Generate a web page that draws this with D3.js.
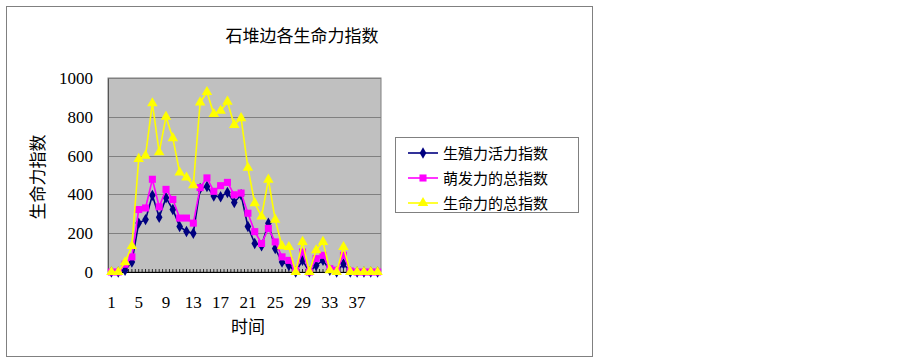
<!DOCTYPE html>
<html>
<head>
<meta charset="utf-8">
<script src="https://cdn.jsdelivr.net/npm/d3@7"></script>
<style>
  body { margin: 0; background: #fff; }
</style>
</head>
<body>
<div id="chart"></div>
<script>
// categories 1..40
const categories = d3.range(1, 41);
const tickLabels = [1, 5, 9, 13, 17, 21, 25, 29, 33, 37];
const yTicks = [0, 200, 400, 600, 800, 1000];

const seriesNames = ['生殖力活力指数', '萌发力的总指数', '生命力的总指数'];

const vitality = [0, 0, 9, 52, 252, 270, 395, 282, 383, 322, 235, 209, 200, 430, 441, 392, 388, 410, 358, 398,
  234, 147, 135, 251, 121, 52, 34, 0, 60, 0, 34, 60, 9, 0, 43, 0, 0, 0, 0, 0];
const germination = [0, 0, 40, 78, 322, 330, 478, 336, 426, 374, 278, 278, 252, 435, 485, 416, 445, 462, 398, 407,
  303, 208, 147, 225, 155, 78, 60, 9, 103, 0, 69, 86, 17, 9, 86, 5, 0, 0, 0, 0];
const life = [0, 0, 50, 134, 583, 600, 870, 617, 800, 690, 513, 487, 447, 874, 928, 814, 831, 878, 758, 793,
  537, 355, 286, 476, 270, 133, 129, 0, 155, 0, 112, 155, 9, 0, 129, 0, 0, 0, 0, 0];

const series = [
  { name: seriesNames[0], values: vitality, color: '#000080', marker: d3.symbolDiamond, size: 38 },
  { name: seriesNames[1], values: germination, color: '#FF00FF', marker: d3.symbolSquare, size: 50 },
  { name: seriesNames[2], values: life, color: '#FFFF00', marker: d3.symbolTriangle, size: 48 }
];

const SERIF = '"Liberation Serif", "Times New Roman", "DejaVu Serif", serif';
const CJK = '"Noto Sans CJK SC", sans-serif';

const width = 900, height = 362;
const plot = { left: 108, right: 381, top: 78, bottom: 272 };

const svg = d3.select('#chart').append('svg')
  .attr('width', width)
  .attr('height', height);

svg.append('rect').attr('width', width).attr('height', height).attr('fill', '#fff');

// outer chart border
svg.append('rect')
  .attr('x', 6.5).attr('y', 6.5)
  .attr('width', 586).attr('height', 350)
  .attr('fill', 'none').attr('stroke', '#808080').attr('stroke-width', 1);

const x = d3.scaleBand().domain(categories).range([plot.left, plot.right]).padding(0);
const y = d3.scaleLinear().domain([0, 1000]).range([plot.bottom, plot.top]);

// plot area
svg.append('rect')
  .attr('x', plot.left).attr('y', plot.top)
  .attr('width', plot.right - plot.left).attr('height', plot.bottom - plot.top)
  .attr('fill', '#C0C0C0').attr('stroke', '#808080').attr('stroke-width', 1);

// gridlines
svg.append('g')
  .selectAll('line')
  .data(yTicks.filter(d => d > 0))
  .join('line')
  .attr('x1', plot.left).attr('x2', plot.right)
  .attr('y1', d => Math.round(y(d)) + 0.5).attr('y2', d => Math.round(y(d)) + 0.5)
  .attr('stroke', '#808080').attr('stroke-width', 1.2);

// y axis
const yAxis = svg.append('g')
  .attr('transform', `translate(${plot.left},0)`)
  .call(d3.axisLeft(y).tickValues(yTicks).tickFormat(d3.format('d')).tickSize(0).tickPadding(15));
yAxis.select('.domain').attr('stroke', '#555');
yAxis.selectAll('text')
  .style('font-family', SERIF)
  .style('font-size', '17px')
  .attr('fill', '#000');

// x axis line and ticks (pointing into plot)
svg.append('line')
  .attr('x1', plot.left).attr('x2', plot.right)
  .attr('y1', plot.bottom + 0.5).attr('y2', plot.bottom + 0.5)
  .attr('stroke', '#000');
const halfStep = x.bandwidth() / 2;
svg.append('g')
  .selectAll('line')
  .data(d3.range(1, categories.length * 2))
  .join('line')
  .attr('x1', d => plot.left + d * halfStep).attr('x2', d => plot.left + d * halfStep)
  .attr('y1', plot.bottom).attr('y2', plot.bottom - 3)
  .attr('stroke', '#000').attr('stroke-width', 0.8);

svg.append('g')
  .selectAll('text')
  .data(tickLabels)
  .join('text')
  .attr('x', d => x(d) + x.bandwidth() / 2)
  .attr('y', 308)
  .attr('text-anchor', 'middle')
  .style('font-family', SERIF)
  .style('font-size', '17px')
  .text(d => d);

// series lines and markers
const line = d3.line()
  .x((d, i) => x(categories[i]) + x.bandwidth() / 2)
  .y(d => y(d));

series.forEach(s => {
  const g = svg.append('g');
  g.append('path')
    .datum(s.values)
    .attr('d', line)
    .attr('fill', 'none')
    .attr('stroke', s.color)
    .attr('stroke-width', 1.6);
  g.selectAll('path.m')
    .data(s.values)
    .join('path')
    .attr('class', 'm')
    .attr('d', d3.symbol().type(s.marker).size(s.size))
    .attr('transform', (d, i) => `translate(${x(categories[i]) + x.bandwidth() / 2},${y(d)})`)
    .attr('fill', s.color);
});

// title
svg.append('text')
  .attr('x', 302).attr('y', 42)
  .attr('text-anchor', 'middle')
  .style('font-family', CJK)
  .style('font-size', '17px')
  .text('石堆边各生命力指数');

// axis titles
svg.append('text')
  .attr('transform', 'translate(44,177) rotate(-90)')
  .attr('text-anchor', 'middle')
  .style('font-family', CJK)
  .style('font-size', '17px')
  .text('生命力指数');

svg.append('text')
  .attr('x', 248).attr('y', 333)
  .attr('text-anchor', 'middle')
  .style('font-family', CJK)
  .style('font-size', '17px')
  .text('时间');

// legend
const legend = svg.append('g');
legend.append('rect')
  .attr('x', 395.5).attr('y', 137.5)
  .attr('width', 183).attr('height', 75)
  .attr('fill', '#fff').attr('stroke', '#808080');

series.forEach((s, i) => {
  const ly = 153 + i * 25;
  legend.append('line')
    .attr('x1', 408).attr('x2', 438)
    .attr('y1', ly).attr('y2', ly)
    .attr('stroke', s.color).attr('stroke-width', 1.6);
  legend.append('path')
    .attr('d', d3.symbol().type(s.marker).size(s.size)())
    .attr('transform', `translate(423,${ly})`)
    .attr('fill', s.color);
  legend.append('text')
    .attr('x', 443).attr('y', ly + 6)
    .style('font-family', CJK)
    .style('font-size', '15px')
    .text(s.name);
});
</script>
</body>
</html>
